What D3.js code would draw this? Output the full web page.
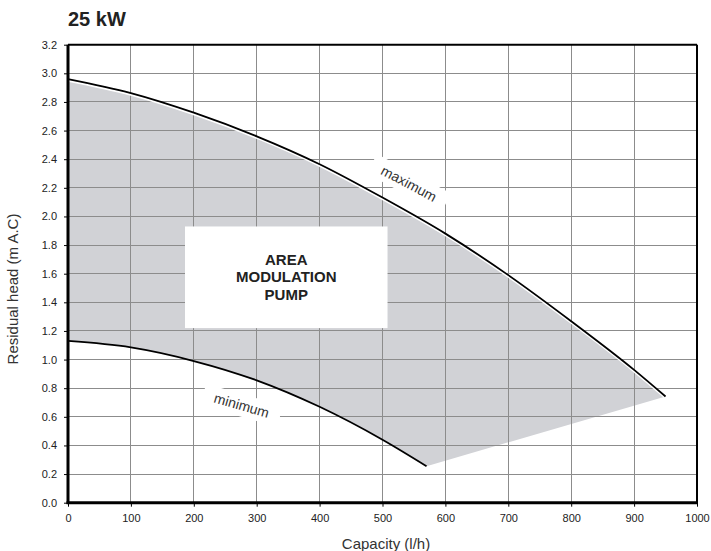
<!DOCTYPE html>
<html lang="en">
<head>
<meta charset="UTF-8">
<title>25 kW pump curve</title>
<script src="https://d3js.org/d3.v7.min.js"></script>
<style>
    body { margin: 0; background: #fff; }
    svg text { font-family: "Liberation Sans", Arial, sans-serif; fill: #222; }
    .grid line { stroke: #8c8c8c; stroke-width: 1; shape-rendering: crispEdges; }
    .axis path, .axis line { stroke: #000; }
    .axis text { font-size: 11px; }
</style>
</head>
<body>
<svg id="chart" width="711" height="551"></svg>
<script>
// capacity (l/h) vs residual head (m A.C)
const maxCapacity = [0, 100, 200, 300, 400, 500, 600, 700, 800, 900, 950];
const maxHead     = [2.96, 2.862, 2.725, 2.56, 2.365, 2.132, 1.88, 1.59, 1.268, 0.928, 0.742];
const minCapacity = [0, 100, 200, 300, 400, 500, 570];
const minHead     = [1.13, 1.085, 0.99, 0.855, 0.67, 0.44, 0.255];
const xTicks = [0, 100, 200, 300, 400, 500, 600, 700, 800, 900, 1000];
const yTicks = [0, 0.2, 0.4, 0.6, 0.8, 1.0, 1.2, 1.4, 1.6, 1.8, 2.0, 2.2, 2.4, 2.6, 2.8, 3.0, 3.2];
const boxLines = ["AREA", "MODULATION", "PUMP"];

const svg = d3.select("#chart");
const margin = {top: 44.7, left: 68, right: 14, bottom: 48.3};
const width = 711 - margin.left - margin.right,
      height = 551 - margin.top - margin.bottom;
const g = svg.append("g").attr("transform", `translate(${margin.left},${margin.top})`);

const x = d3.scaleLinear().domain([0, 1000]).range([0, width]);
const y = d3.scaleLinear().domain([0, 3.2]).range([height, 0]);

const maxPts = maxCapacity.map((c, i) => [c, maxHead[i]]);
const minPts = minCapacity.map((c, i) => [c, minHead[i]]);
const line = d3.line().x(d => x(d[0])).y(d => y(d[1])).curve(d3.curveMonotoneX);

// shaded modulation area
const areaPath = line(maxPts) + "L" + line(minPts.slice().reverse()).slice(1) + "Z";
g.append("path").attr("d", areaPath).attr("fill", "#d1d2d6");

// grid
g.append("g").attr("class", "grid").selectAll("line")
    .data(xTicks.slice(1, -1)).enter().append("line")
    .attr("x1", d => x(d)).attr("x2", d => x(d)).attr("y1", 0).attr("y2", height);
g.append("g").attr("class", "grid").selectAll("line")
    .data(yTicks.slice(1, -1)).enter().append("line")
    .attr("x1", 0).attr("x2", width).attr("y1", d => y(d)).attr("y2", d => y(d));

// curve labels with white backing
function curveLabel(text, cx, cy, angle, w, h) {
    const lg = g.append("g").attr("transform", `translate(${x(cx)},${y(cy)}) rotate(${angle})`);
    lg.append("rect").attr("x", -w / 2).attr("y", -h / 2).attr("width", w).attr("height", h).attr("fill", "#fff");
    lg.append("text").attr("text-anchor", "middle").attr("dy", "0.35em")
      .style("font-size", "14px").style("fill", "#333").text(text);
}
curveLabel("maximum", 542, 2.23, 28, 84, 22);
curveLabel("minimum", 276, 0.68, 16, 80, 22);

// curves
g.append("path").attr("d", line(maxPts)).attr("fill", "none")
    .attr("stroke", "#fff").attr("stroke-width", 2).attr("transform", "translate(0,1.6)");
g.append("path").attr("d", line(maxPts)).attr("fill", "none").attr("stroke", "#000").attr("stroke-width", 1.8);
g.append("path").attr("d", line(minPts)).attr("fill", "none").attr("stroke", "#000").attr("stroke-width", 1.8);

// label box
const bx0 = 186, bx1 = 508, by0 = 1.93, by1 = 1.22;
g.append("rect").attr("x", x(bx0)).attr("y", y(by0))
    .attr("width", x(bx1) - x(bx0)).attr("height", y(by1) - y(by0)).attr("fill", "#fff");
g.append("text").attr("text-anchor", "middle")
    .attr("x", (x(bx0) + x(bx1)) / 2).attr("y", 220.3)
    .style("font-size", "15px").style("font-weight", "bold")
    .selectAll("tspan").data(boxLines).enter().append("tspan")
    .attr("x", (x(bx0) + x(bx1)) / 2).attr("dy", (d, i) => i === 0 ? 0 : 17.5).text(d => d);

// frame
g.append("line").attr("x1", 0).attr("x2", width).attr("y1", 0).attr("y2", 0).attr("stroke", "#000").attr("stroke-width", 2);
g.append("line").attr("x1", width).attr("x2", width).attr("y1", 0).attr("y2", height).attr("stroke", "#000").attr("stroke-width", 2);

// axes
const yAxis = g.append("g").attr("class", "axis")
    .call(d3.axisLeft(y).tickValues(yTicks).tickFormat(d3.format(".1f")).tickSize(4).tickPadding(7));
yAxis.select(".domain").attr("stroke-width", 3).attr("d", `M0,${height + 1}V0`);
const xAxis = g.append("g").attr("class", "axis").attr("transform", `translate(0,${height})`)
    .call(d3.axisBottom(x).tickValues(xTicks).tickFormat(d3.format("d")).tickSize(4).tickPadding(8));
xAxis.select(".domain").attr("stroke-width", 3).attr("d", `M-1.5,0H${width + 1}`);

// titles
svg.append("text").attr("x", 68).attr("y", 26)
    .style("font-size", "20px").style("font-weight", "bold").text("25 kW");
svg.append("text").attr("text-anchor", "middle")
    .attr("transform", "translate(18,289) rotate(-90)")
    .style("font-size", "15px").style("fill", "#333").text("Residual head (m A.C)");
svg.append("text").attr("text-anchor", "middle").attr("x", 386).attr("y", 549)
    .style("font-size", "15px").style("fill", "#333").text("Capacity (l/h)");
</script>
</body>
</html>
